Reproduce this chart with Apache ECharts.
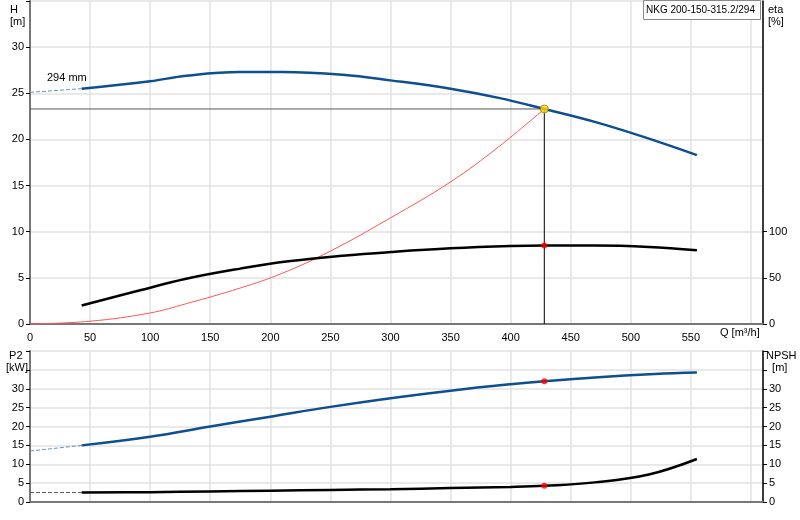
<!DOCTYPE html><html><head><meta charset="utf-8"><script src="https://cdn.jsdelivr.net/npm/echarts@6/dist/echarts.min.js"></script>
<style>html,body{margin:0;background:#fff}#c{width:800px;height:520px}</style></head><body><div id="c"></div><script>
const hQ=[43,100,130,175,210,260,300,350,390,428,470,510,555];
const hV=[25.5,26.3,26.9,27.3,27.3,27.0,26.4,25.5,24.5,23.3,21.9,20.3,18.3];
const hExt=[[0,25.1],[43,25.5]];
const etaQ=[43,90,130,175,215,260,300,350,400,428,470,515,555];
const etaV=[20,36,49,60,68,74,78,82,84.5,85,85,83.5,80];
const sysQ=[0,50,100,130,175,210,250,300,350,390,428];
const sysV=[0,0.3,1.2,2.2,3.9,5.5,7.9,11.5,15.4,19.2,23.3];
const p2Q=[43,100,150,200,250,300,350,400,428,470,520,555];
const p2V=[15,17.3,20,22.6,25.2,27.5,29.5,31.2,32,33,33.9,34.3];
const p2Ext=[[0,13.5],[43,15]];
const npQ=[43,100,150,200,250,300,350,400,428,470,515,555];
const npV=[2.5,2.6,2.8,3.0,3.2,3.4,3.7,4.0,4.3,5.2,7.3,11.4];
const npExt=[[0,2.5],[43,2.5]];
const opQ=428, opH=23.3, opEta=85, opP2=32, opNp=4.3;
const xTicks=[0,50,100,150,200,250,300,350,400,450,500,550];
const etaTicks=[0,50,100];
const z=(a,b)=>a.map((q,i)=>[q,b[i]]);
const lab={fontFamily:'Arial, Liberation Sans',fontSize:11,color:'#000'};
const gl={show:true,lineStyle:{color:'#e2e2e2',width:1.5}};
function xa(gi,show){return {type:'value',gridIndex:gi,min:0,max:610,interval:50,
 axisLine:{show:true,onZero:false,lineStyle:{color:'#777',width:2}},axisTick:{show:false},
 splitLine:gl,axisLabel:{show:show,...lab,formatter:v=>xTicks.includes(v)?v:''}};}
function ya(gi,pos,max,lineCol,labMax){return {type:'value',gridIndex:gi,position:pos,min:0,max:max,interval:5,
 axisLine:{show:true,lineStyle:{color:lineCol,width:pos==='left'?2:1.5}},axisTick:{show:true,length:4,lineStyle:{color:'#000'}},
 splitLine:pos==='left'?gl:{show:false},axisLabel:{...lab,margin:6,formatter:v=>v<=labMax?v:''}};}
const etaAxis={type:'value',gridIndex:0,position:'right',min:0,max:350,
 axisLine:{show:true,lineStyle:{color:'#000',width:1.5}},
 axisTick:{show:true,length:4,customValues:etaTicks,lineStyle:{color:'#000'}},
 splitLine:{show:false},axisLabel:{...lab,margin:6,customValues:etaTicks}};
const ch=echarts.init(document.getElementById('c'));
ch.setOption({animation:false,
 grid:[{left:30,right:37,top:1,height:323},{left:30,right:37,top:351,height:151}],
 xAxis:[xa(0,true),xa(1,false)],
 yAxis:[ya(0,'left',35,'#777',30),etaAxis,ya(1,'left',40,'#777',30),ya(1,'right',40,'#000',30)],
 graphic:[
  {type:'text',left:10,top:4,style:{text:'H\n[m]',fill:'#000',font:'11px Arial',lineHeight:12}},
  {type:'text',left:768,top:4,style:{text:'eta\n[%]',fill:'#000',font:'11px Arial',lineHeight:12}},
  {type:'text',left:6,top:350,style:{text:' P2\n[kW]',fill:'#000',font:'11px Arial',lineHeight:12}},
  {type:'text',left:766,top:350,style:{text:'NPSH\n  [m]',fill:'#000',font:'11px Arial',lineHeight:12}},
  {type:'text',left:720,top:327,style:{text:'Q [m³/h]',fill:'#000',font:'11px Arial'}},
  {type:'text',left:47,top:72,style:{text:'294 mm',fill:'#000',font:'11px Arial'}},
  {type:'rect',left:643,top:0,z:10,shape:{width:117,height:19},style:{fill:'#fff',stroke:'#888',lineWidth:1}},
  {type:'text',left:646,top:5,z:11,style:{text:'NKG 200-150-315.2/294',fill:'#000',font:'10px Arial'}}
 ],
 series:[
  {type:'line',xAxisIndex:0,yAxisIndex:0,data:[[0,opH],[opQ,opH]],symbol:'none',lineStyle:{color:'#555',width:1}},
  {type:'line',xAxisIndex:0,yAxisIndex:0,data:[[opQ,0],[opQ,opH]],symbol:'none',lineStyle:{color:'#000',width:1}},
  {type:'line',xAxisIndex:0,yAxisIndex:0,data:z(sysQ,sysV),smooth:0.4,symbol:'none',lineStyle:{color:'#f55',width:1}},
  {type:'line',xAxisIndex:0,yAxisIndex:0,data:hExt,symbol:'none',lineStyle:{color:'#6c8fb5',width:1,type:'dashed'}},
  {type:'line',xAxisIndex:0,yAxisIndex:0,data:z(hQ,hV),smooth:0.4,symbol:'none',lineStyle:{color:'#0e4f8f',width:2.5}},
  {type:'line',xAxisIndex:0,yAxisIndex:1,data:z(etaQ,etaV),smooth:0.4,symbol:'none',lineStyle:{color:'#000',width:2.5}},
  {type:'scatter',z:10,xAxisIndex:0,yAxisIndex:0,data:[[opQ,opH]],symbolSize:8,itemStyle:{color:'#ffd700',borderColor:'#a08000',borderWidth:1}},
  {type:'scatter',z:10,xAxisIndex:0,yAxisIndex:1,data:[[opQ,opEta]],symbolSize:6,itemStyle:{color:'#f00'}},
  {type:'line',xAxisIndex:1,yAxisIndex:2,data:p2Ext,symbol:'none',lineStyle:{color:'#6c8fb5',width:1,type:'dashed'}},
  {type:'line',xAxisIndex:1,yAxisIndex:2,data:z(p2Q,p2V),smooth:0.4,symbol:'none',lineStyle:{color:'#0e4f8f',width:2.5}},
  {type:'line',xAxisIndex:1,yAxisIndex:3,data:npExt,symbol:'none',lineStyle:{color:'#555',width:1,type:'dashed'}},
  {type:'line',xAxisIndex:1,yAxisIndex:3,data:z(npQ,npV),smooth:0.4,symbol:'none',lineStyle:{color:'#000',width:2.5}},
  {type:'scatter',z:10,xAxisIndex:1,yAxisIndex:2,data:[[opQ,opP2]],symbolSize:6,itemStyle:{color:'#f00'}},
  {type:'scatter',z:10,xAxisIndex:1,yAxisIndex:3,data:[[opQ,opNp]],symbolSize:6,itemStyle:{color:'#f00'}}
 ]});
</script></body></html>
